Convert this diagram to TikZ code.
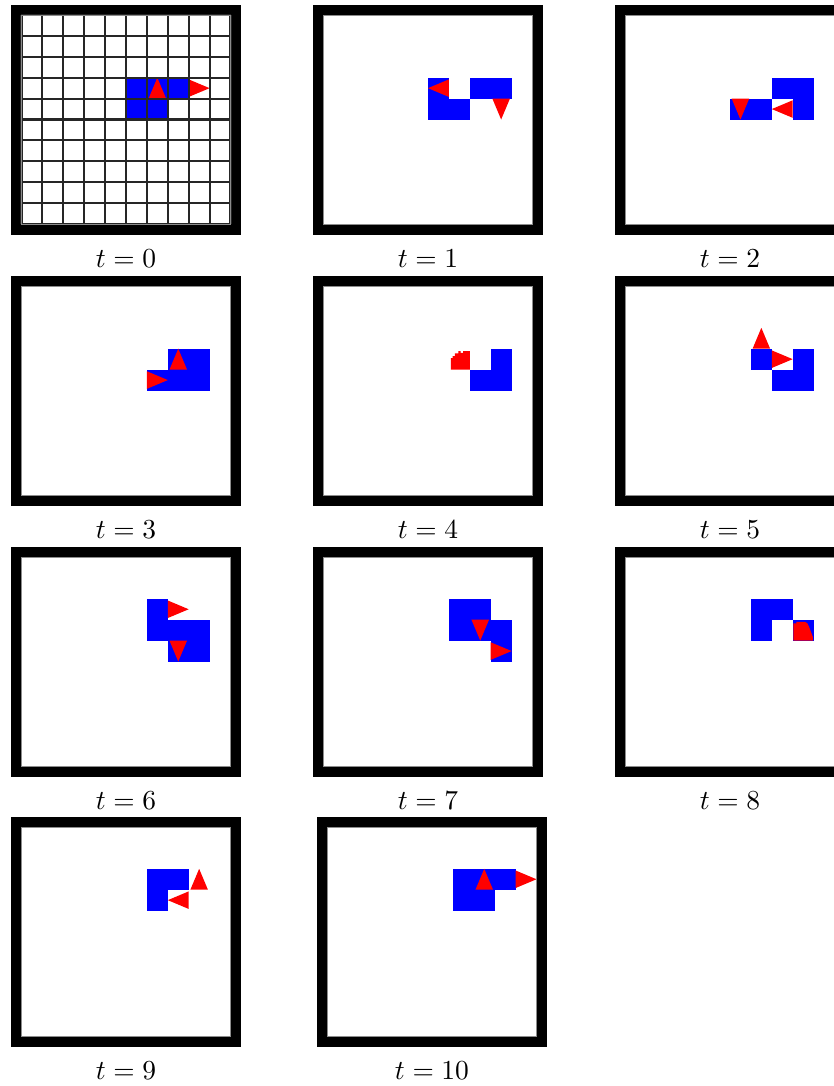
\documentclass[tikz,border=0pt]{standalone}
\definecolor{gblue}{RGB}{0,0,255}
\definecolor{gred}{RGB}{255,0,0}
\tikzset{
  pframe/.style={fill=black},
  pinner/.style={fill=white},
  innerline/.style={draw=black!45,line width=0.3pt},
  gridline/.style={draw=black!85,line width=0.75pt},
  bluecell/.style={fill=gblue},
  agent/.style={fill=gred},
  lbl/.style={inner sep=0pt,anchor=base,font=\normalsize},
}
\newcommand\cs{20.9}
\newcommand\Bc[2]{\fill[bluecell,shift={({#1*\cs},{#2*\cs})},scale=\cs] (0,0) rectangle (1,1);}
\newcommand\Tu[2]{\fill[agent,shift={({#1*\cs},{#2*\cs})},scale=\cs] (0.08,1) -- (0.5,0) -- (0.92,1) -- cycle;}
\newcommand\Td[2]{\fill[agent,shift={({#1*\cs},{#2*\cs})},scale=\cs] (0.08,0) -- (0.5,1) -- (0.92,0) -- cycle;}
\newcommand\Tr[2]{\fill[agent,shift={({#1*\cs},{#2*\cs})},scale=\cs] (0,0.08) -- (1,0.5) -- (0,0.92) -- cycle;}
\newcommand\Tl[2]{\fill[agent,shift={({#1*\cs},{#2*\cs})},scale=\cs] (1,0.08) -- (0,0.5) -- (1,0.92) -- cycle;}
\newcommand\BlobA[2]{\fill[agent,shift={({#1*\cs},{#2*\cs})},scale=\cs] (0.1,1) -- (0.1,0.45) -- (0.18,0.45) -- (0.18,0.35) -- (0.29,0.35) -- (0.29,0.22) -- (0.45,0.22) -- (0.45,0.11) -- (0.56,0.11) -- (0.56,0.2) -- (0.68,0.2) -- (0.68,0.11) -- (1,0.11) -- (1,1) -- cycle;}
\newcommand\BlobB[2]{\fill[agent,shift={({#1*\cs},{#2*\cs})},scale=\cs] (0.03,1) -- (0.03,0.18) -- (0.18,0.18) -- (0.18,0.1) -- (0.58,0.1) -- (0.7,0.17) -- (0.78,0.33) -- (0.87,0.57) -- (0.96,0.81) -- (0.98,1) -- cycle;}
\newcommand\Gpanel[4]{%
  \begin{scope}[shift={(#1,#2)}]
    \fill[pframe] (0,0) rectangle (230,230);
    \fill[pinner] (10.5,10) rectangle (219.5,219);
    \begin{scope}[shift={(10.5,10)}]
      #4
    \end{scope}
    \draw[innerline] (10.5,10) rectangle (219.5,219);
    \node[lbl] (lab#3) at (115,262) {$t=#3$};
  \end{scope}}
\begin{document}
\begin{tikzpicture}[x=0.364pt,y=-0.364pt]
\useasboundingbox (0,0) rectangle (834,1086);
\clip (0,0) rectangle (834,1086);
% t = 0
\Gpanel{11}{5}{0}{%
  \Bc{5}{3}\Bc{6}{3}\Bc{7}{3}\Bc{5}{4}\Bc{6}{4}
  \Tu{6}{3}\Tr{8}{3}
  \foreach \i in {0,...,10}{
    \draw[gridline] ({\i*\cs},0) -- ({\i*\cs},{10*\cs});
    \draw[gridline] (0,{\i*\cs}) -- ({10*\cs},{\i*\cs});
  }}
% t = 1
\Gpanel{313}{5}{1}{%
  \Bc{5}{3}\Bc{7}{3}\Bc{8}{3}\Bc{5}{4}\Bc{6}{4}
  \Tl{5}{3}\Td{8}{4}}
% t = 2
\Gpanel{615}{5}{2}{%
  \Bc{7}{3}\Bc{8}{3}\Bc{5}{4}\Bc{6}{4}\Bc{8}{4}
  \Td{5}{4}\Tl{7}{4}}
% t = 3
\Gpanel{11}{276}{3}{%
  \Bc{7}{3}\Bc{8}{3}\Bc{6}{4}\Bc{7}{4}\Bc{8}{4}
  \Tu{7}{3}\Tr{6}{4}}
% t = 4
\Gpanel{313}{276}{4}{%
  \Bc{8}{3}\Bc{7}{4}\Bc{8}{4}
  \BlobA{6}{3}}
% t = 5
\Gpanel{615}{276}{5}{%
  \Bc{6}{3}\Bc{8}{3}\Bc{7}{4}\Bc{8}{4}
  \Tu{6}{2}\Tr{7}{3}}
% t = 6
\Gpanel{11}{547}{6}{%
  \Bc{6}{2}\Bc{6}{3}\Bc{7}{3}\Bc{8}{3}\Bc{7}{4}\Bc{8}{4}
  \Tr{7}{2}\Td{7}{4}}
% t = 7
\Gpanel{313}{547}{7}{%
  \Bc{6}{2}\Bc{7}{2}\Bc{6}{3}\Bc{7}{3}\Bc{8}{3}\Bc{8}{4}
  \Td{7}{3}\Tr{8}{4}}
% t = 8
\Gpanel{615}{547}{8}{%
  \Bc{6}{2}\Bc{7}{2}\Bc{6}{3}\Bc{8}{3}
  \BlobB{8}{3}}
% t = 9
\Gpanel{11}{817}{9}{%
  \Bc{6}{2}\Bc{7}{2}\Bc{6}{3}
  \Tu{8}{2}\Tl{7}{3}}
% t = 10
\Gpanel{317}{817}{10}{%
  \Bc{6}{2}\Bc{7}{2}\Bc{8}{2}\Bc{6}{3}\Bc{7}{3}
  \Tu{7}{2}\Tr{9}{2}}
\end{tikzpicture}
\end{document}
